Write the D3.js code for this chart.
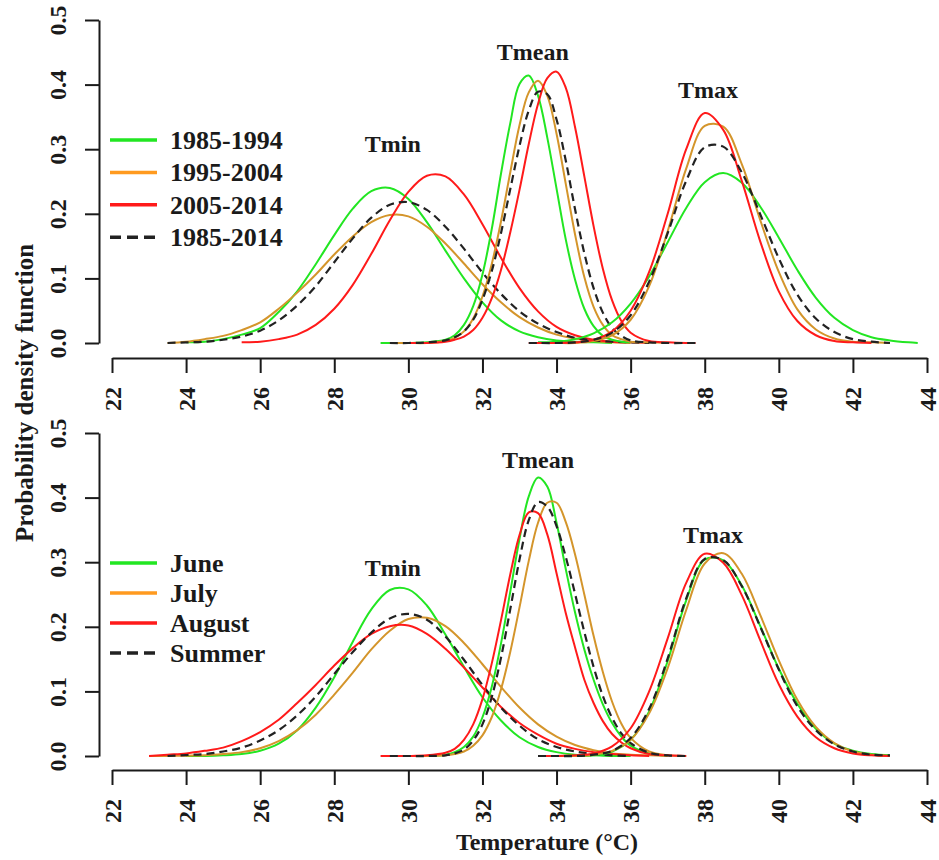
<!DOCTYPE html>
<html>
<head>
<meta charset="utf-8">
<script src="https://cdn.jsdelivr.net/npm/d3@7"></script>
<style>
  body { margin: 0; background: #fff; }
  text { font-family: "Liberation Serif", "Times New Roman", serif; font-weight: bold; fill: #1a1a1a; }
</style>
</head>
<body>
<svg id="chart"></svg>
<script>
// temperature grids (deg C) on which the densities were read
const tminT  = [23,23.5,24,24.5,25,25.5,26,26.5,27,27.5,28,28.5,29,29.5,30,30.5,31,31.5,32,32.5,33,33.5,34,34.5,35,35.5,36,36.5,37];
const tmeanT = [29.25,29.5,30,30.5,31,31.25,31.5,31.75,32,32.25,32.5,32.75,33,33.25,33.5,33.75,34,34.25,34.5,34.75,35,35.25,35.5,35.75,36,36.5,37,37.5,37.75];
const tmaxT  = [33.25,33.5,34,34.5,35,35.5,36,36.5,37,37.5,38,38.5,39,39.5,40,40.5,41,41.5,42,42.5,43,43.5,43.75];

const periodNames = ["1985-1994", "1995-2004", "2005-2014", "1985-2014"];
const monthNames  = ["June", "July", "August", "Summer"];
const varNames    = ["Tmin", "Tmean", "Tmax"];
const xTicks = d3.range(22, 45, 2);
const yTicks = [0, 0.1, 0.2, 0.3, 0.4, 0.5];

// densities, order: green, orange, red, black dashed
const topTmin = [
  [null,null,0.001,0.002,0.006,0.013,0.023,0.048,0.080,0.122,0.167,0.208,0.235,0.240,0.223,0.187,0.143,0.100,0.063,0.035,0.018,0.009,0.004,0.002,0.001,0,null,null,null],
  [null,0,0.002,0.006,0.011,0.020,0.032,0.053,0.078,0.106,0.137,0.165,0.187,0.198,0.196,0.180,0.154,0.123,0.091,0.063,0.040,0.024,0.013,0.007,0.003,0.001,0,null,null],
  [null,null,null,null,null,0.001,0.002,0.006,0.013,0.028,0.053,0.090,0.138,0.190,0.234,0.259,0.258,0.230,0.184,0.132,0.085,0.049,0.025,0.012,0.005,0.002,0.001,0,null],
  [null,0,0.001,0.002,0.005,0.010,0.019,0.035,0.058,0.088,0.125,0.162,0.194,0.214,0.218,0.206,0.180,0.146,0.109,0.076,0.049,0.030,0.017,0.008,0.004,0.002,0.001,0,null]
];
const topTmean = [
  [0,0,0,0.001,0.005,0.012,0.028,0.057,0.106,0.176,0.262,0.340,0.401,0.414,0.383,0.318,0.239,0.160,0.098,0.053,0.026,0.011,0.005,0.002,0.001,null,null,null,null],
  [null,0,0,0,0.003,0.008,0.018,0.038,0.072,0.122,0.188,0.264,0.337,0.388,0.406,0.383,0.324,0.246,0.168,0.102,0.056,0.028,0.012,0.006,0.002,0.001,0,null,null],
  [null,null,0,0,0.002,0.005,0.010,0.020,0.039,0.069,0.113,0.171,0.237,0.308,0.370,0.410,0.420,0.395,0.334,0.258,0.181,0.115,0.066,0.034,0.016,0.003,0.001,0,0],
  [null,0,0,0.001,0.004,0.009,0.018,0.036,0.067,0.111,0.170,0.238,0.305,0.360,0.389,0.385,0.346,0.282,0.207,0.139,0.085,0.047,0.023,0.011,0.004,0.001,0,0,0]
];
const topTmax = [
  [null,0.001,0.002,0.006,0.015,0.032,0.061,0.103,0.156,0.209,0.249,0.263,0.248,0.211,0.163,0.113,0.070,0.039,0.020,0.009,0.004,0.001,0],
  [null,0,0,0,0.003,0.012,0.036,0.088,0.173,0.270,0.336,0.335,0.277,0.190,0.110,0.052,0.021,0.007,0.002,0.001,0,null,null],
  [0,0,0,0.001,0.005,0.018,0.050,0.110,0.200,0.300,0.356,0.330,0.251,0.157,0.080,0.034,0.012,0.003,0.001,0,null,null,null],
  [0,0,0,0.001,0.005,0.016,0.043,0.095,0.170,0.251,0.303,0.304,0.264,0.199,0.131,0.075,0.038,0.017,0.006,0.002,0,null,null]
];
const botTmin = [
  [null,null,0,0,0.001,0.003,0.008,0.019,0.040,0.075,0.122,0.177,0.227,0.257,0.258,0.233,0.188,0.138,0.091,0.055,0.029,0.014,0.006,0.002,0.001,0,0,null,null],
  [0,0,0.0005,0.001,0.003,0.006,0.012,0.023,0.040,0.064,0.095,0.129,0.165,0.194,0.212,0.214,0.201,0.175,0.142,0.107,0.075,0.049,0.030,0.017,0.009,0.004,0.002,0.001,0],
  [0,0.002,0.004,0.008,0.013,0.023,0.037,0.056,0.082,0.110,0.140,0.167,0.189,0.201,0.202,0.189,0.166,0.137,0.106,0.076,0.051,0.033,0.019,0.011,0.006,0.003,0.001,0,null],
  [null,0,0.0015,0.003,0.007,0.013,0.024,0.040,0.063,0.092,0.127,0.161,0.191,0.213,0.220,0.211,0.185,0.149,0.110,0.075,0.047,0.026,0.014,0.007,0.003,0.001,0,null,null]
];
const botTmean = [
  [null,0,0,0,0.002,0.006,0.014,0.030,0.060,0.107,0.174,0.254,0.336,0.402,0.431,0.417,0.361,0.289,0.222,0.165,0.118,0.080,0.051,0.030,0.016,0.004,0.001,null,null],
  [null,null,0,0,0.001,0.003,0.007,0.016,0.032,0.060,0.103,0.161,0.230,0.302,0.361,0.392,0.392,0.362,0.312,0.250,0.186,0.130,0.084,0.050,0.028,0.007,0.001,0,null],
  [0,0,0,0.001,0.005,0.011,0.025,0.049,0.088,0.143,0.210,0.281,0.342,0.377,0.376,0.343,0.283,0.221,0.168,0.118,0.082,0.054,0.034,0.021,0.012,0.003,0.001,0,null],
  [null,0,0,0,0.001,0.004,0.010,0.024,0.049,0.091,0.152,0.227,0.304,0.365,0.393,0.386,0.356,0.308,0.251,0.192,0.138,0.093,0.059,0.035,0.020,0.005,0.001,0,null]
];
const botTmax = [
  [null,null,0,0,0.001,0.007,0.025,0.069,0.147,0.241,0.304,0.303,0.264,0.201,0.135,0.081,0.042,0.019,0.008,0.003,0.001,null,null],
  [null,null,0,0,0.002,0.008,0.025,0.066,0.136,0.226,0.298,0.314,0.282,0.218,0.148,0.087,0.045,0.020,0.007,0.002,0,null,null],
  [null,0,0,0.001,0.004,0.015,0.043,0.100,0.182,0.268,0.313,0.299,0.249,0.179,0.111,0.061,0.029,0.012,0.004,0.001,0,null,null],
  [null,0,0,0,0.002,0.008,0.028,0.073,0.151,0.244,0.305,0.303,0.263,0.200,0.134,0.077,0.040,0.018,0.007,0.002,0.001,null,null]
];

// where the Tmin / Tmean / Tmax labels sit, in data units [T, density]
const topLabelPos = [[29.58, 0.296], [33.36, 0.438], [38.09, 0.379]];
const botLabelPos = [[29.58, 0.279], [33.50, 0.446], [38.22, 0.330]];

const curveColors  = ["#22e622", "#d4952b", "#ff1a1a", "#222222"];
const legendColors = ["#22e622", "#ff9a1f", "#ff1a1a", "#222222"];

const W = 939, H = 860;
const svg = d3.select("#chart").attr("width", W).attr("height", H);

const x = d3.scaleLinear().domain([22, 44]).range([112, 927]);

const panels = [
  { top: 20, bottom: 343, axisY: 358, legendY: 140, legendStep: 32.4, names: periodNames,
    series: [topTmin, topTmean, topTmax], labels: topLabelPos },
  { top: 433, bottom: 756, axisY: 770, legendY: 563, legendStep: 30, names: monthNames,
    series: [botTmin, botTmean, botTmax], labels: botLabelPos }
];
const grids = [tminT, tmeanT, tmaxT];

panels.forEach(p => {
  const y = d3.scaleLinear().domain([0, 0.5]).range([p.bottom, p.top]);
  const g = svg.append("g");

  // y axis
  const yAxis = g.append("g")
    .attr("transform", "translate(99,0)")
    .call(d3.axisLeft(y).tickValues(yTicks).tickFormat(d3.format(".1f")).tickSize(14).tickSizeOuter(0));
  yAxis.selectAll("path, line").attr("stroke", "#1a1a1a").attr("stroke-width", 2);
  yAxis.selectAll("text")
    .attr("x", null).attr("dy", null)
    .attr("transform", "translate(-33,0) rotate(-90)")
    .attr("text-anchor", "middle")
    .attr("font-size", 24)
    .attr("font-family", null);

  // x axis
  const xAxis = g.append("g")
    .attr("transform", `translate(0,${p.axisY})`)
    .call(d3.axisBottom(x).tickValues(xTicks).tickFormat(d3.format("d")).tickSize(15).tickSizeOuter(0));
  xAxis.selectAll("path, line").attr("stroke", "#1a1a1a").attr("stroke-width", 2);
  xAxis.selectAll("text")
    .attr("y", null).attr("dy", null)
    .attr("transform", "translate(8,29) rotate(-90)")
    .attr("text-anchor", "end")
    .attr("font-size", 24)
    .attr("font-family", null);

  // density curves
  const line = d3.line()
    .defined(d => d[1] != null)
    .x(d => x(d[0]))
    .y(d => y(d[1]))
    .curve(d3.curveCatmullRom);

  p.series.forEach((set, vi) => {
    const grid = grids[vi];
    set.forEach((vals, si) => {
      g.append("path")
        .datum(grid.map((t, i) => [t, vals[i]]))
        .attr("d", line)
        .attr("fill", "none")
        .attr("stroke", curveColors[si])
        .attr("stroke-width", si === 3 ? 2.2 : 2)
        .attr("stroke-dasharray", si === 3 ? "8,5" : null);
    });
  });

  // variable labels
  g.selectAll("text.var")
    .data(varNames)
    .join("text")
    .attr("class", "var")
    .attr("x", (d, i) => x(p.labels[i][0]))
    .attr("y", (d, i) => y(p.labels[i][1]))
    .attr("text-anchor", "middle")
    .attr("font-size", 24)
    .text(d => d);

  // legend
  const leg = g.append("g");
  p.names.forEach((name, i) => {
    const ly = p.legendY + i * p.legendStep;
    leg.append("line")
      .attr("x1", 110).attr("x2", 157).attr("y1", ly).attr("y2", ly)
      .attr("stroke", legendColors[i])
      .attr("stroke-width", 3.5)
      .attr("stroke-dasharray", i === 3 ? "11,6" : null);
    leg.append("text")
      .attr("x", 170).attr("y", ly + 9)
      .attr("font-size", 26)
      .text(name);
  });
});

// axis titles
svg.append("text")
  .attr("transform", "translate(33,393) rotate(-90)")
  .attr("text-anchor", "middle")
  .attr("font-size", 25)
  .text("Probability density function");

svg.append("text")
  .attr("x", 547).attr("y", 850)
  .attr("text-anchor", "middle")
  .attr("font-size", 24)
  .text("Temperature (\u00B0C)");
</script>
</body>
</html>
